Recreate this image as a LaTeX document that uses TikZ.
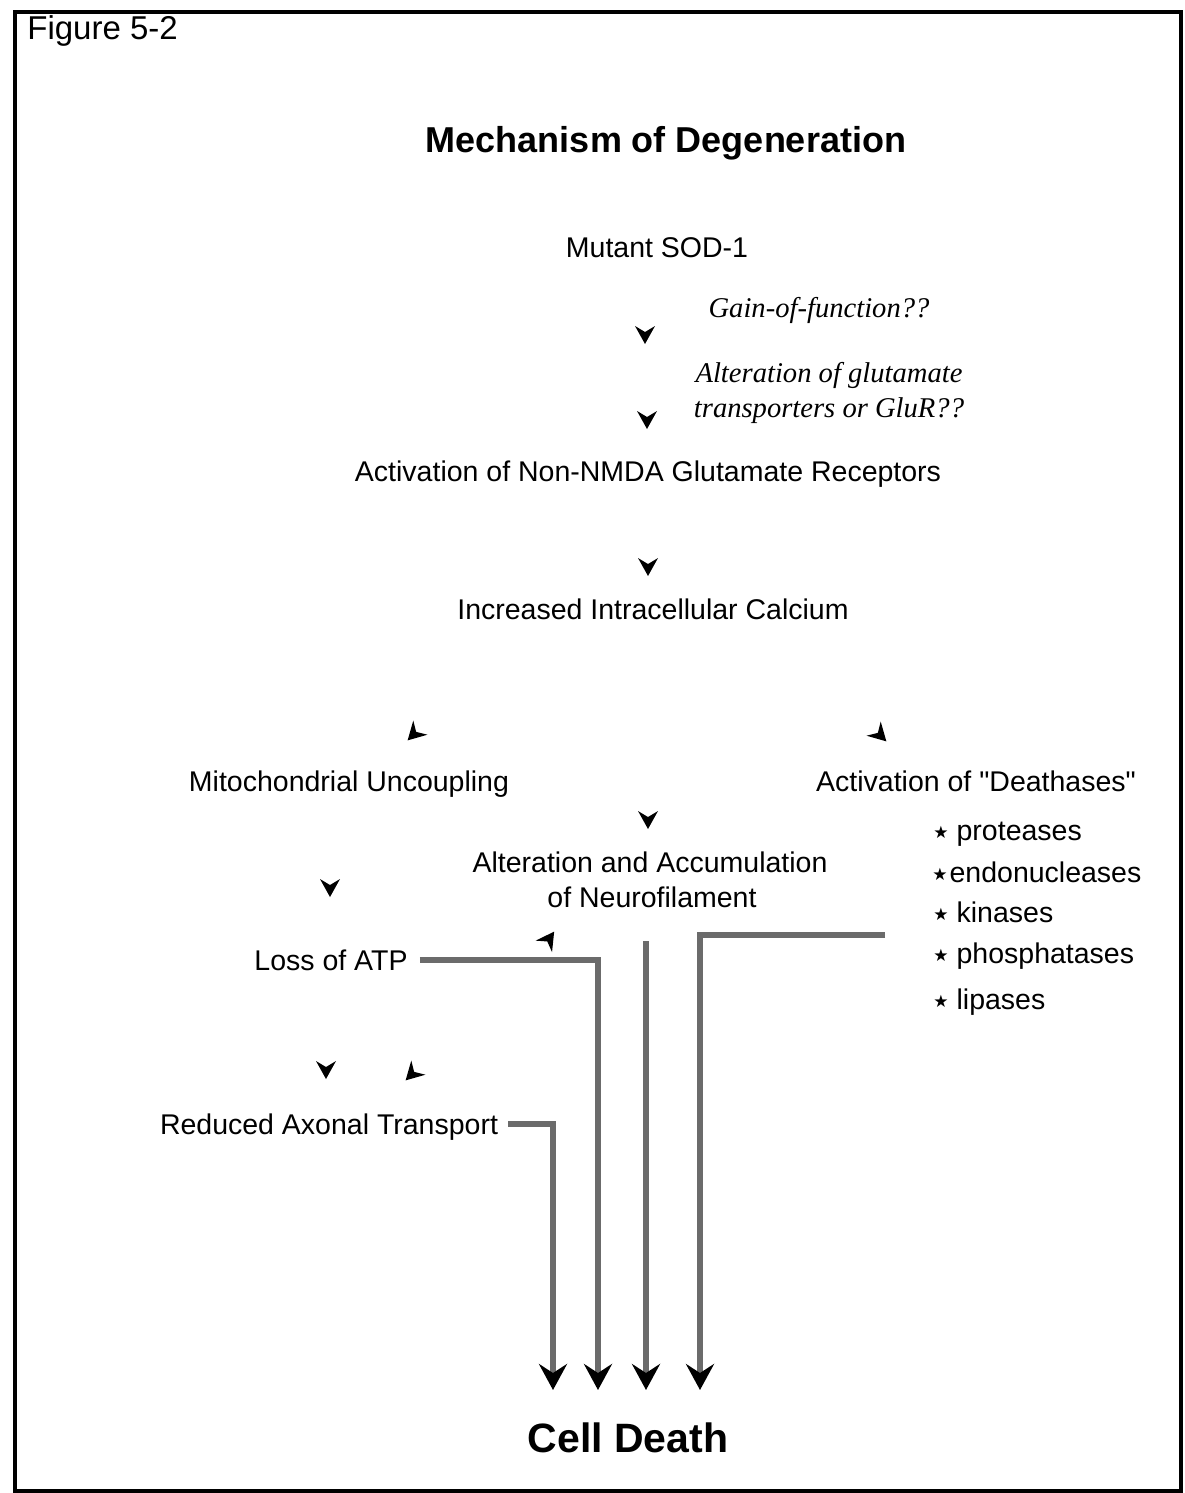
\documentclass[tikz,border=0pt]{standalone}
\usepackage{fontspec}
\setmainfont{Liberation Sans}
\newfontfamily\rawsans{Liberation Sans}
\newfontfamily\itfont{Liberation Serif}
\newfontfamily\symfont{DejaVu Sans}
\usetikzlibrary{arrows.meta}
\newcommand{\bstar}{\raisebox{1.0pt}{\symfont\fontsize{8.5}{9}\selectfont ★}}
\newcommand{\sq}{{\rawsans"}}
\begin{document}
\begin{tikzpicture}[x=0.5pt,y=-0.5pt,
  txt/.style={inner sep=0pt, anchor=base, font=\fontsize{14.25}{16}\selectfont},
  itxt/.style={inner sep=0pt, anchor=base, font=\itfont\itshape\fontsize{14.3}{16}\selectfont},
  bul/.style={inner sep=0pt, anchor=base west, font=\fontsize{14.25}{16}\selectfont},
  frame/.style={draw=black, line width=2pt},
  flow/.style={draw=black!58, line width=3.2pt,
    -{Stealth[length=13pt,width=14pt,inset=4.5pt,black]}},
  ahead/.pic={\fill[black] (0,9) -- (-10,-9) -- (0,-3) -- (10,-9) -- cycle;}
]
\useasboundingbox (0,0) rectangle (1184,1493);
\fill[white] (0,0) rectangle (1184,1493);
\draw[frame] (15,12) rectangle (1181,1491);

% texts
\node[inner sep=0pt, anchor=base west, font=\fontsize{16.5}{18}\selectfont] (fig) at (27,40) {Figure 5-2};
\node[inner sep=0pt, anchor=base, font=\bfseries\fontsize{18}{20}\selectfont] (title) at (666,152) {Mechanism of Degeneration};
\node[txt] (sod) at (657,257) {Mutant SOD-1};
\node[itxt] (gain) at (819,317) {Gain-of-function??};
\node[itxt] (alt1) at (829,382) {Alteration of glutamate};
\node[itxt] (alt2) at (829,417) {transporters or GluR??};
\node[txt] (nmda) at (648,481) {Activation of Non-NMDA Glutamate Receptors};
\node[txt] (calc) at (653,619) {Increased Intracellular Calcium};
\node[txt] (mito) at (349,791) {Mitochondrial Uncoupling};
\node[txt] (death) at (976,791) {Activation of \sq Deathases\sq};
\node[txt] (nf1) at (650,872) {Alteration and Accumulation};
\node[txt] (nf2) at (652,907) {of Neurofilament};
\node[txt] (atp) at (331,970) {Loss of ATP};
\node[txt] (axon) at (329,1134) {Reduced Axonal Transport};
\node[inner sep=0pt, anchor=base, font=\bfseries\fontsize{20.5}{22}\selectfont] (cell) at (628,1452) {Cell Death};

% list of deathases
\node[bul] (b1) at (933,840) {\bstar\hspace{4pt}proteases};
\node[bul] (b2) at (932,882) {\bstar\hspace{1pt}endonucleases};
\node[bul] (b3) at (933,922) {\bstar\hspace{4pt}kinases};
\node[bul] (b4) at (933,963) {\bstar\hspace{4pt}phosphatases};
\node[bul] (b5) at (933,1009) {\bstar\hspace{4pt}lipases};

% free-standing arrowheads
\pic at (645,335) {ahead};
\pic at (647,420) {ahead};
\pic at (648,567) {ahead};
\pic[rotate=-45] at (414,734) {ahead};
\pic[rotate=45] at (880,735) {ahead};
\pic at (648,820) {ahead};
\pic at (330,888) {ahead};
\pic[rotate=145] at (549,939) {ahead};
\pic at (326,1070) {ahead};
\pic[rotate=-45] at (412,1074) {ahead};

% ends of the flows
\coordinate (e1) at (553,1390);
\coordinate (e2) at (598,1390);
\coordinate (e3) at (646,1390);
\coordinate (e4) at (700,1390);

% thick grey flows into cell death
\draw[flow] ([xshift=5pt,yshift=5pt]axon.base east) -| (e1);
\draw[flow] ([xshift=6pt,yshift=5pt]atp.base east) -| (e2);
\draw[flow] (646,941) -- (e3);
\draw[flow] (885,935) -| (e4);
\end{tikzpicture}
\end{document}
